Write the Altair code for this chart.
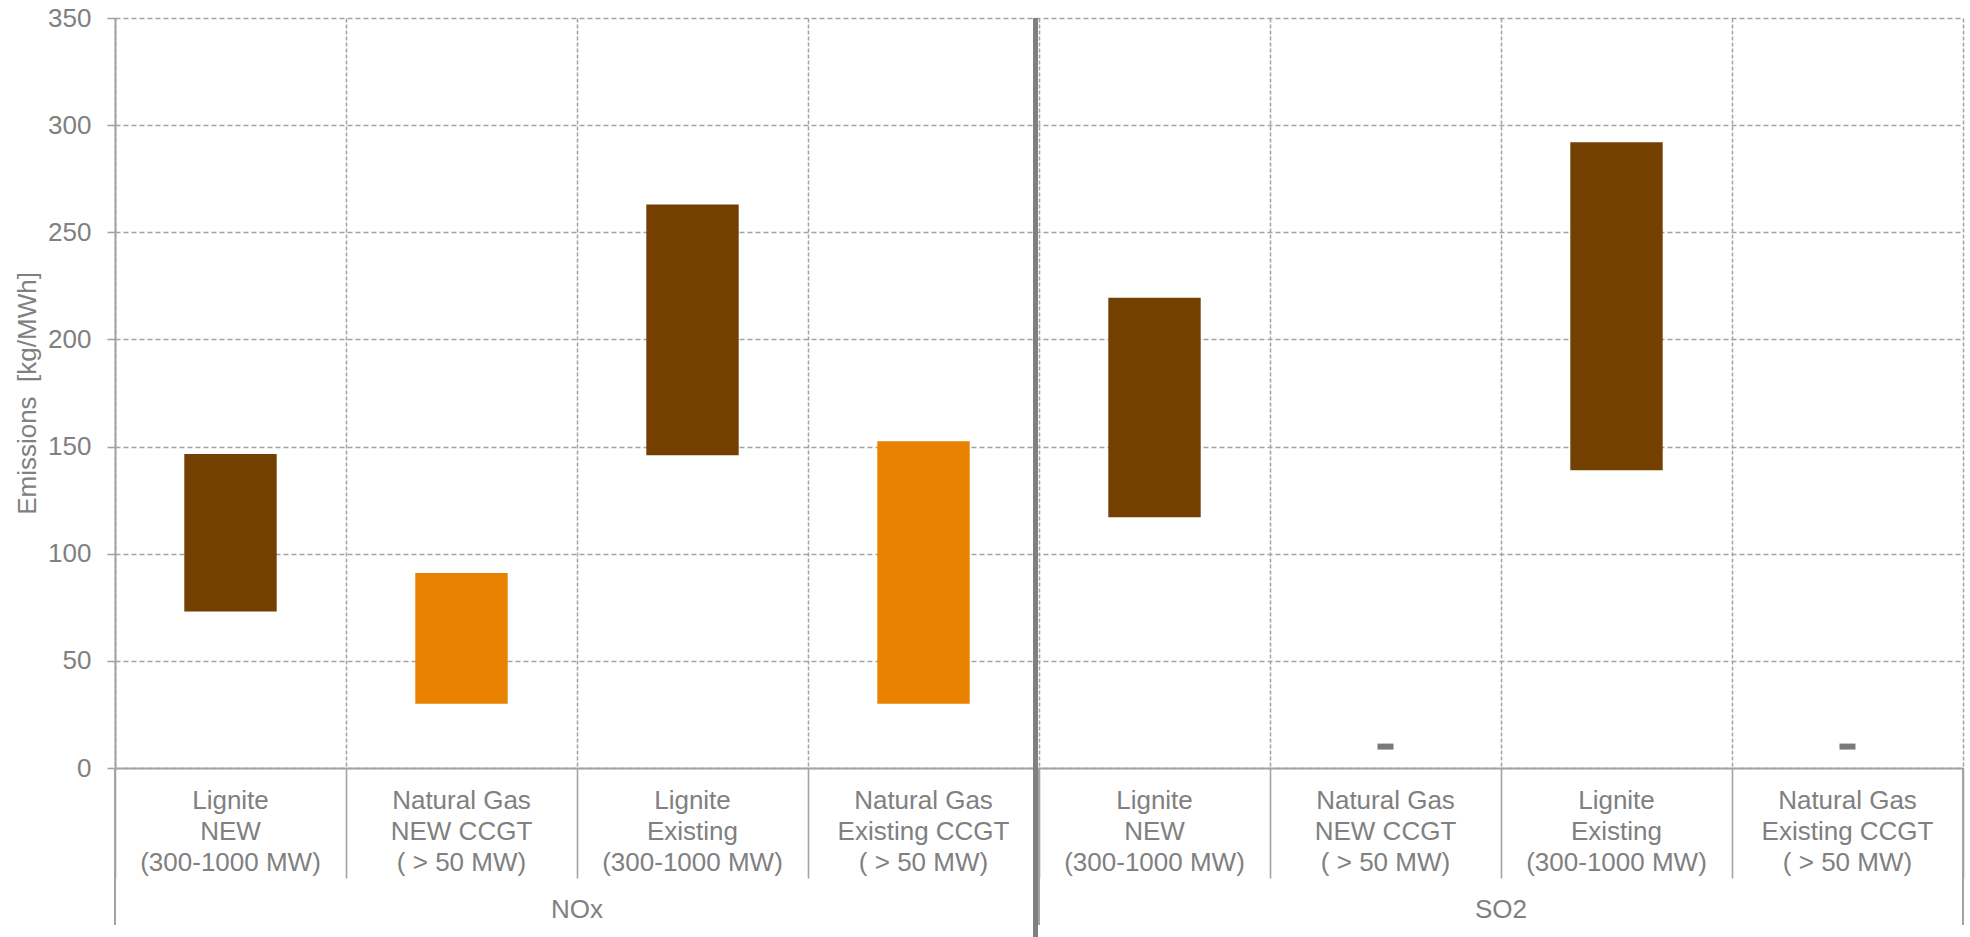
import altair as alt
import pandas as pd

# Pollutant panels and the four plant types shown in each
pollutants = ["NOx", "SO2"]
technologies = [
    "Lignite\nNEW\n(300-1000 MW)",
    "Natural Gas\nNEW CCGT\n( > 50 MW)",
    "Lignite\nExisting\n(300-1000 MW)",
    "Natural Gas\nExisting CCGT\n( > 50 MW)",
]
fuels = ["Lignite", "Natural Gas", "Lignite", "Natural Gas"]

# Emission ranges in kg/MWh (low / high end of each floating bar)
nox_low = [73, 30, 146, 30]
nox_high = [146.5, 91, 263, 152.5]
so2_low = [117, None, 139, None]
so2_high = [219.5, None, 292, None]
# Gas plants emit almost no SO2: single value instead of a range
so2_point = [None, 10, None, 10]

fuel_names = ["Lignite", "Natural Gas"]
fuel_colors = ["#734002", "#E88200"]

GREY_TEXT = "#808080"
GREY_MARK = "#7A7A7A"
GREY_LINE = "#A3A3A3"
FONT = "Liberation Sans"

rows = []
series = [
    ("NOx", nox_low, nox_high, [None] * len(technologies)),
    ("SO2", so2_low, so2_high, so2_point),
]
for pollutant, lows, highs, points in series:
    for tech, fuel, lo, hi, pt in zip(technologies, fuels, lows, highs, points):
        rows.append(dict(pollutant=pollutant, technology=tech, fuel=fuel,
                         low=lo, high=hi, point=pt))
df = pd.DataFrame(rows)
df["pos"] = range(len(df))
n = len(df)

x_scale = alt.Scale(domain=[0, n], nice=False, zero=False)
y_scale = alt.Scale(domain=[0, 350], nice=False)

x_axis = alt.Axis(
    values=list(range(n + 1)), title=None, labels=False,
    grid=True, gridDash=[4, 2], gridColor=GREY_LINE, gridWidth=1.5,
    ticks=True, tickSize=110, tickColor=GREY_LINE, tickWidth=1.6,
    domain=True, domainColor=GREY_LINE, domainWidth=2,
)
y_axis = alt.Axis(
    values=list(range(0, 351, 50)), title="Emissions\u00a0 [kg/MWh]",
    grid=True, gridDash=[5, 3], gridColor=GREY_LINE, gridWidth=1.5,
    ticks=True, tickSize=8, tickColor=GREY_LINE, tickWidth=1.6,
    domain=True, domainColor=GREY_LINE, domainWidth=2,
    labelFont=FONT, labelFontSize=26, labelColor=GREY_TEXT, labelPadding=16,
    titleFont=FONT, titleFontSize=26, titleColor=GREY_TEXT,
    titleFontWeight="normal", titleAngle=270, titleX=-80, titleY=375,
    titleAlign="center", titleBaseline="alphabetic",
)

base = alt.Chart(df).transform_calculate(
    left="datum.pos + 0.3", right="datum.pos + 0.7", mid="datum.pos + 0.5"
)

bars = base.transform_filter("isValid(datum.low)").mark_bar().encode(
    x=alt.X("left:Q", scale=x_scale, axis=x_axis),
    x2="right:Q",
    y=alt.Y("low:Q", scale=y_scale, axis=y_axis),
    y2="high:Q",
    color=alt.Color("fuel:N", scale=alt.Scale(domain=fuel_names, range=fuel_colors),
                    legend=None),
)

points = base.transform_filter("isValid(datum.point)").mark_tick(
    orient="horizontal", size=16, thickness=6, color=GREY_MARK, opacity=1
).encode(
    x=alt.X("mid:Q", scale=x_scale, axis=x_axis),
    y=alt.Y("point:Q", scale=y_scale, axis=y_axis),
)

tech_labels = base.mark_text(
    font=FONT, fontSize=26, color=GREY_TEXT, align="center",
    baseline="alphabetic", lineBreak="\n", lineHeight=31,
).encode(
    x=alt.X("mid:Q", scale=x_scale, axis=x_axis),
    y=alt.value(791),
    text="technology:N",
)

groups = alt.Chart(df).transform_aggregate(
    lo="min(pos)", hi="max(pos)", groupby=["pollutant"]
).transform_calculate(
    edge="datum.hi + 1", mid="(datum.lo + datum.hi + 1) / 2"
)

group_labels = groups.mark_text(
    font=FONT, fontSize=26, color=GREY_TEXT, align="center", baseline="alphabetic"
).encode(
    x=alt.X("mid:Q", scale=x_scale, axis=x_axis),
    y=alt.value(900),
    text="pollutant:N",
)

frame_left = groups.mark_rule(color=GREY_LINE, strokeWidth=2).encode(
    x=alt.X("lo:Q", scale=x_scale, axis=x_axis),
    y=alt.value(750), y2=alt.value(907),
)
frame_right = groups.mark_rule(color=GREY_LINE, strokeWidth=2).encode(
    x=alt.X("edge:Q", scale=x_scale, axis=x_axis),
    y=alt.value(750), y2=alt.value(907),
)
divider = groups.transform_filter("datum.lo > 0").mark_rule(
    color=GREY_TEXT, strokeWidth=5, xOffset=-3.5
).encode(
    x=alt.X("lo:Q", scale=x_scale, axis=x_axis),
    y=alt.value(0), y2=alt.value(919),
)

chart = alt.layer(
    bars, points, tech_labels, group_labels, frame_left, frame_right, divider
).properties(
    width=1848, height=750,
    padding={"left": 115, "top": 18, "right": 7, "bottom": 169},
    autosize=alt.AutoSizeParams(type="none"),
    background="white",
).configure_view(stroke=None)

chart.save("out.html", embed_options={"renderer": "svg", "actions": False})
